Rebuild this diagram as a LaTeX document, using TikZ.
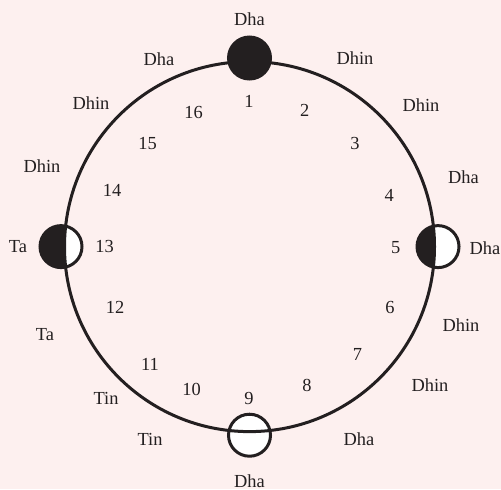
\documentclass[tikz,border=0pt]{standalone}
\usepackage{fontspec}
\setmainfont{Liberation Serif}
\usepackage{xcolor}
\usepackage{tikz}

\definecolor{ink}{HTML}{231F20}
\definecolor{paper}{HTML}{FDF0EF}

\begin{document}
\begin{tikzpicture}[
  x=0.5pt, y=-0.5pt,
  bol/.style={font=\fontsize{9.2}{11}\selectfont, text=ink, inner sep=0pt},
  beat/.style={bol},
  tali/.style={circle, draw=ink, fill=ink, line width=1.5pt, minimum size=21pt, inner sep=0pt},
  khali/.style={tali, fill=white},
  rim/.style={draw=ink, line width=1.5pt}
]

% background
\fill[paper] (0,0) rectangle (501,489);
\useasboundingbox (0,0) rectangle (501,489);

\coordinate (ctr) at (249.5,246.6);

% clap / wave markers
\node[tali] (m_top) at (249.5,58) {};
\node[khali] (m_left) at (61,246.6) {};
\node[khali] (m_right) at (438,246.6) {};
\node[khali] (m_bottom) at (249.5,435.2) {};

% black halves
\begin{scope}
  \clip (m_left) circle (10.5pt);
  \fill[ink, even odd rule] (0,0) rectangle (249,489) (ctr) circle (92.5pt);
\end{scope}
\begin{scope}
  \clip (m_right) circle (10.5pt);
  \fill[ink] (ctr) circle (92.5pt);
\end{scope}

% cycle
\draw[rim] (ctr) circle (92.5pt);

% beat numbers
\foreach \n/\px/\py in {1/249/101.7, 2/304.7/110.7, 3/355/143.3, 4/389.3/195,
    5/395.7/247.3, 6/390/307.7, 7/357.5/354.5, 8/307/385, 9/249/398,
    10/191.5/389, 11/150/364.5, 12/115/307, 13/104.5/246.6, 14/112/190,
    15/147.5/143.5, 16/193.5/112}
  \node[beat] (beat_\n) at (\px,\py) {\n};

% bols
\foreach \i/\px/\py/\txt in {1/249.5/19.5/Dha, 2/355/58/Dhin, 3/421/105/Dhin,
    4/463.5/177/Dha, 5/485/248/Dha, 6/461/325/Dhin, 7/430/385.5/Dhin,
    8/359/439.5/Dha, 9/249.5/481.5/Dha, 10/150/439.5/Tin, 11/106/398/Tin,
    12/45/335/Ta, 13/18/246.6/Ta, 14/42/166/Dhin, 15/91/103/Dhin, 16/159/59/Dha}
  \node[bol] (bol_\i) at (\px,\py) {\txt};

\end{tikzpicture}
\end{document}
